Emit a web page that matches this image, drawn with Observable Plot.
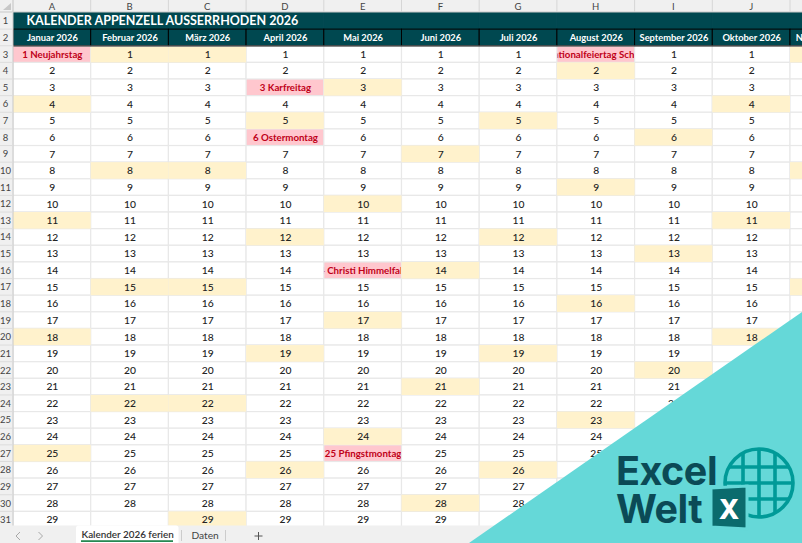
<!DOCTYPE html>
<html><head><meta charset="utf-8">
<script src="https://cdn.jsdelivr.net/npm/d3@7"></script>
<script src="https://cdn.jsdelivr.net/npm/@observablehq/plot@0.6"></script>
<style>
html,body{margin:0;padding:0;background:#fff;overflow:hidden}
#wrap{position:relative;width:802px;height:543px;overflow:hidden}
#wrap svg{position:absolute;left:0;top:0;display:block}
</style></head><body><div id="wrap"></div>
<script>
const columns = ["A","B","C","D","E","F","G","H","I","J","K"];
const months = ["Januar 2026","Februar 2026","März 2026","April 2026","Mai 2026","Juni 2026","Juli 2026","August 2026","September 2026","Oktober 2026","November 2026"];
const rows = [1,2,3,4,5,6,7,8,9,10,11,12,13,14,15,16,17,18,19,20,21,22,23,24,25,26,27,28,29,30,31];
const days = [1,2,3,4,5,6,7,8,9,10,11,12,13,14,15,16,17,18,19,20,21,22,23,24,25,26,27,28,29];
const lastDay = [29,28,29,29,29,29,29,29,29,29,29];
const sundays = [
  [4,11,18,25],[1,8,15,22],[1,8,15,22,29],[5,12,19,26],[3,10,17,24],[7,14,21,28],
  [5,12,19,26],[2,9,16,23],[6,13,20,27],[4,11,18,25],[1,8,15,22,29]
];
const holidayCol = ["A","D","D","E","E","H"];
const holidayDay = [1,3,6,14,25,1];
const holidayText = ["1 Neujahrstag","3 Karfreitag","6 Ostermontag","14 Christi Himmelfahrt","25 Pfingstmontag","1 Nationalfeiertag Schweiz"];
const titleText = "KALENDER APPENZELL AUSSERRHODEN 2026";

const TEAL="#004850", WEEK="#FFF2CC", HOL="#FFC7CE", RED="#C00018", GRID="#e8e8e8", CHROME="#f0f0f0";
const font="Lato, 'Open Sans', sans-serif";

const holidays = holidayCol.map((c,i)=>({col:c,row:holidayDay[i]+2,text:holidayText[i]}));
const isHol=(c,r)=>holidays.some(h=>h.col===c&&h.row===r);
const cells=[];
columns.forEach((c,i)=>{
  days.forEach(d=>{
    const r=d+2;
    cells.push({col:c,row:r,day:d<=lastDay[i]?d:null,sun:sundays[i].includes(d)&&!isHol(c,r),hol:isHol(c,r)});
  });
});
const plain=cells.filter(d=>!d.hol);
const headers=columns.map((c,i)=>({col:c,row:2,text:months[i]}));

const plot=Plot.plot({
  width:802,height:543,margin:0,
  style:{background:"#fff",fontFamily:font,overflow:"hidden"},
  x:{type:"band",domain:columns,range:[13,867.7],padding:0,align:0,round:false,axis:null},
  y:{type:"band",domain:rows,range:[12.5,528],padding:0,align:0,round:false,axis:null},
  marks:[
    Plot.cell(holidays,{x:"col",y:"row",fill:HOL}),
    Plot.text(holidays,{x:"col",y:"row",text:"text",fill:RED,fontWeight:700,fontSize:9.7}),
    Plot.cell(plain,{x:"col",y:"row",fill:"#fff",stroke:GRID,strokeWidth:1.2}),
    Plot.cell(plain.filter(d=>d.sun),{x:"col",y:"row",fill:WEEK}),
    Plot.text(plain.filter(d=>d.day!==null),{x:"col",y:"row",text:"day",fill:"#222",fontSize:10.3,fontWeight:500}),
    Plot.cell(columns,{x:d=>d,y:()=>1,fill:TEAL,stroke:TEAL,strokeWidth:1}),
    Plot.cell(headers,{x:"col",y:"row",fill:TEAL,stroke:"#000",strokeWidth:1}),
    Plot.text(headers,{x:"col",y:"row",text:"text",fill:"#fff",fontWeight:700,fontSize:9.3}),
    Plot.text([titleText],{x:()=>"A",y:()=>1,text:d=>d,fill:"#fff",fontWeight:700,fontSize:12.5,textAnchor:"start",dx:-25.8})
  ]
});
const wrap=document.getElementById("wrap");
wrap.appendChild(plot);

const sx=plot.scale("x"), sy=plot.scale("y");
const root=d3.select(plot);
const g=root.append("g").attr("text-anchor","middle");
g.append("rect").attr("x",0).attr("y",0).attr("width",802).attr("height",12).attr("fill",CHROME);
g.append("rect").attr("x",0).attr("y",0).attr("width",13).attr("height",543).attr("fill",CHROME);
g.append("path").attr("d","M3,10H11V3Z").attr("fill","#c8c8c8");
g.append("line").attr("x1",13).attr("x2",802).attr("y1",46.2).attr("y2",46.2).attr("stroke","#7a7a7a").attr("stroke-width",1.3);
g.append("line").attr("x1",0).attr("x2",802).attr("y1",12).attr("y2",12).attr("stroke","#c8c8c8");
g.append("line").attr("x1",13).attr("x2",13).attr("y1",0).attr("y2",528).attr("stroke","#c8c8c8");
columns.forEach(c=>{
  g.append("text").attr("x",sx.apply(c)+sx.bandwidth/2).attr("y",9.5).attr("font-size",9.5).attr("fill","#444").attr("font-family",font).text(c);
  g.append("line").attr("x1",sx.apply(c)).attr("x2",sx.apply(c)).attr("y1",0).attr("y2",12).attr("stroke","#d6d6d6");
});
rows.forEach(r=>{
  g.append("text").attr("x",5.5).attr("y",sy.apply(r)+sy.bandwidth/2+3.5).attr("font-size",9.5).attr("fill","#444").attr("font-family",font).text(r);
  g.append("line").attr("x1",0).attr("x2",13).attr("y1",sy.apply(r)).attr("y2",sy.apply(r)).attr("stroke","#dcdcdc");
});
const t=root.append("g").attr("text-anchor","start");
t.append("rect").attr("x",0).attr("y",525.5).attr("width",802).attr("height",18).attr("fill",CHROME);
t.append("path").attr("d","M76,543V528q0,-2.5 2.5,-2.5H176q2.5,0 2.5,2.5V543Z").attr("fill","#fff");
t.append("rect").attr("x",81).attr("y",540.3).attr("width",92).attr("height",1.6).attr("fill","#107c41");
t.append("text").attr("x",81.5).attr("y",538).attr("font-size",9.9).attr("font-weight",600).attr("fill","#333").attr("font-family",font).text("Kalender 2026 ferien");
t.append("text").attr("x",191.5).attr("y",538.5).attr("font-size",10.2).attr("fill","#444").attr("font-family",font).text("Daten");
t.append("path").attr("d","M20,532l-4,4l4,4M38.5,532l4,4l-4,4").attr("fill","none").attr("stroke","#a8a8a8").attr("stroke-width",1);
t.append("path").attr("d","M258.5,532v8M254.5,536h8").attr("stroke","#555").attr("stroke-width",1);
t.append("line").attr("x1",181.5).attr("x2",181.5).attr("y1",530).attr("y2",541).attr("stroke","#ccc");
t.append("line").attr("x1",225.5).attr("x2",225.5).attr("y1",530).attr("y2",541).attr("stroke","#ccc");
const b=root.append("g").attr("text-anchor","start");
b.append("path").attr("d","M802,312V543H469Z").attr("fill","#65d8d8");
const gg=b.append("g").attr("fill","none").attr("stroke","#009a98").attr("stroke-width",3.6);
gg.append("circle").attr("cx",759).attr("cy",483).attr("r",34);
gg.append("path").attr("d","M743,453V513M759,449V517M775,453V513M729,467H789M725,483H793M729,499H789");
b.append("path").attr("d","M711,488L747,486V529L711,527Z").attr("fill","#0b6b6d").attr("stroke","#65d8d8").attr("stroke-width",3);
b.append("text").attr("x",729).attr("y",519).attr("text-anchor","middle").attr("font-size",27).attr("font-weight",800).attr("fill","#fff").attr("font-family","Inter, sans-serif").text("X");
b.append("text").attr("x",616).attr("y",485).attr("font-size",39.5).attr("font-weight",700).attr("fill","#0b4a56").attr("font-family","Inter, sans-serif").attr("letter-spacing","-.5").text("Excel");
b.append("text").attr("x",616).attr("y",523).attr("font-size",39.5).attr("font-weight",700).attr("fill","#0b4a56").attr("font-family","Inter, sans-serif").attr("letter-spacing","-.5").text("Welt");
</script></body></html>
